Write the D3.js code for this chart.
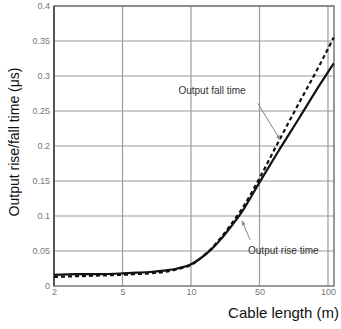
<!DOCTYPE html>
<html>
<head>
<meta charset="utf-8">
<script src="https://cdn.jsdelivr.net/npm/d3@7"></script>
<style>
  body { margin: 0; background: #fff; }
  text { font-family: "Liberation Sans", Arial, sans-serif; }
</style>
</head>
<body>
<div id="chart"></div>
<script>
// x tick labels (cable length, m) - drawn equally spaced in the original
var xTicks = [2, 5, 10, 50, 100];
var yTicks = [0, 0.05, 0.1, 0.15, 0.2, 0.25, 0.3, 0.35, 0.4];

// Output rise time (solid)
var riseLen  = [2, 3, 4, 5, 6, 7, 8, 9, 10, 15.8, 21.7, 27.5, 33.4, 39.2, 50, 63, 79, 94.5, 105];
var riseTime = [0.016, 0.017, 0.017, 0.018, 0.019, 0.020, 0.022, 0.025, 0.031, 0.040, 0.052, 0.067, 0.085, 0.104, 0.148, 0.190, 0.240, 0.289, 0.318];

// Output fall time (dashed)
var fallLen  = [2, 3, 4, 5, 6, 7, 8, 9, 10, 15.8, 21.7, 27.5, 33.4, 39.2, 50, 63, 79, 94.5, 105];
var fallTime = [0.013, 0.014, 0.015, 0.016, 0.017, 0.018, 0.020, 0.024, 0.030, 0.040, 0.053, 0.069, 0.088, 0.108, 0.154, 0.203, 0.262, 0.318, 0.355];

var margin = { left: 54, right: 7, top: 6, bottom: 43 };
var W = 341, H = 329;
var width = W - margin.left - margin.right;
var height = H - margin.top - margin.bottom;

var svg = d3.select("#chart").append("svg")
    .attr("width", W)
    .attr("height", H);

var g = svg.append("g")
    .attr("transform", "translate(" + margin.left + "," + margin.top + ")");

// piecewise scale so the labelled lengths sit equally spaced
var step = 68.5;
var x = d3.scaleLinear()
    .domain([2, 5, 10, 50, 100, 105.3])
    .range([0, step, 2 * step, 3 * step, 4 * step, width]);
var y = d3.scaleLinear()
    .domain([0, 0.4])
    .range([height, 0]);

// grid
g.selectAll(".vgrid").data(xTicks.slice(1)).enter().append("line")
    .attr("x1", function(d) { return x(d); })
    .attr("x2", function(d) { return x(d); })
    .attr("y1", 0).attr("y2", height)
    .attr("stroke", "#9a9a9a").attr("stroke-width", 1.2);
g.selectAll(".hgrid").data(yTicks.slice(1)).enter().append("line")
    .attr("x1", 0).attr("x2", width)
    .attr("y1", function(d) { return y(d); })
    .attr("y2", function(d) { return y(d); })
    .attr("stroke", "#9a9a9a").attr("stroke-width", 1.2);

// frame
g.append("rect")
    .attr("width", width).attr("height", height)
    .attr("fill", "none").attr("stroke", "#777").attr("stroke-width", 1.5);
g.append("line")
    .attr("x1", 0).attr("x2", 0).attr("y1", 0).attr("y2", height)
    .attr("stroke", "#555").attr("stroke-width", 2);

// axes (labels only)
var xAxis = g.append("g")
    .attr("transform", "translate(0," + height + ")")
    .call(d3.axisBottom(x).tickValues(xTicks).tickSize(0).tickPadding(3));
var yAxis = g.append("g")
    .call(d3.axisLeft(y).tickValues(yTicks).tickSize(0).tickPadding(4)
        .tickFormat(function(d) { return String(+d.toFixed(2)); }));
[xAxis, yAxis].forEach(function(a) {
    a.select(".domain").remove();
    a.selectAll("text").attr("fill", "#777").attr("font-size", "9px")
        .style("font-family", "'Liberation Sans', Arial, sans-serif");
});

// curves
var line = d3.line()
    .x(function(d) { return x(d[0]); })
    .y(function(d) { return y(d[1]); })
    .curve(d3.curveMonotoneX);

g.append("path")
    .datum(d3.zip(riseLen, riseTime))
    .attr("fill", "none").attr("stroke", "#111").attr("stroke-width", 2.2)
    .attr("d", line);
g.append("path")
    .datum(d3.zip(fallLen, fallTime))
    .attr("fill", "none").attr("stroke", "#111").attr("stroke-width", 2.2)
    .attr("stroke-dasharray", "4,3")
    .attr("d", line);

// annotations
svg.append("defs").append("marker")
    .attr("id", "arr").attr("viewBox", "0 0 10 10")
    .attr("refX", 9).attr("refY", 5)
    .attr("markerWidth", 5).attr("markerHeight", 5)
    .attr("orient", "auto")
    .append("path").attr("d", "M0,1L10,5L0,9z").attr("fill", "#888");

g.append("text")
    .attr("x", x(22.3)).attr("y", y(0.274))
    .attr("text-anchor", "middle").attr("font-size", "10px").attr("fill", "#333")
    .text("Output fall time");
g.append("line")
    .attr("x1", x(49)).attr("y1", y(0.261))
    .attr("x2", x(65)).attr("y2", y(0.209))
    .attr("stroke", "#888").attr("stroke-width", 1)
    .attr("marker-end", "url(#arr)");

g.append("text")
    .attr("x", x(43.3)).attr("y", y(0.046))
    .attr("font-size", "10px").attr("fill", "#333")
    .text("Output rise time");
g.append("line")
    .attr("x1", x(44.5)).attr("y1", y(0.066))
    .attr("x2", x(39.8)).attr("y2", y(0.093))
    .attr("stroke", "#888").attr("stroke-width", 1)
    .attr("marker-end", "url(#arr)");

// titles
svg.append("text")
    .attr("x", W - 2).attr("y", 318)
    .attr("text-anchor", "end").attr("font-size", "15px").attr("fill", "#111")
    .text("Cable length (m)");
svg.append("text")
    .attr("transform", "translate(19," + (margin.top + height / 2 - 4) + ") rotate(-90)")
    .attr("text-anchor", "middle").attr("font-size", "14px").attr("fill", "#111")
    .text("Output rise/fall time (μs)");
</script>
</body>
</html>
